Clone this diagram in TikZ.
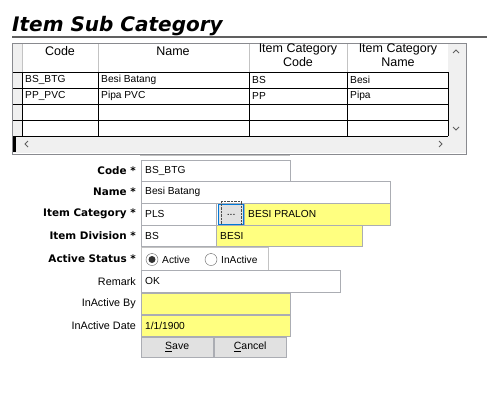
\documentclass[tikz,border=0pt]{standalone}
\usepackage{fontspec}
\setmainfont{Liberation Sans}
\newfontfamily\titlefont{DejaVu Sans}
\usetikzlibrary{positioning}
\definecolor{fieldyellow}{RGB}{255,255,128}
\definecolor{boxgray}{RGB}{171,173,179}
\definecolor{panelgray}{RGB}{240,240,240}
\definecolor{focusblue}{RGB}{0,120,215}
\definecolor{btngray}{RGB}{225,225,225}
\definecolor{arrowgray}{RGB}{96,96,96}

\begin{document}
\begin{tikzpicture}[x=1pt, y=-1pt, font=\fontsize{10.5}{12}\selectfont,
    txtbox/.style={draw=boxgray, fill=white, anchor=north west, inner sep=0pt},
    ybox/.style={txtbox, fill=fieldyellow},
    btn/.style={txtbox, fill=btngray},
    lbl/.style={anchor=east, inner sep=0pt, font=\titlefont\bfseries\fontsize{10.4}{12}\selectfont},
    plainlbl/.style={anchor=east, inner sep=0pt, font=\fontsize{10.8}{12}\selectfont},
    val/.style={anchor=west, inner sep=0pt, font=\fontsize{10.2}{12}\selectfont},
    hdr/.style={align=center, inner sep=0pt, font=\fontsize{12.5}{14}\selectfont}]
    \useasboundingbox (0,0) rectangle (500,400);

    % Title
    \node[anchor=base west, inner sep=0pt, font=\titlefont\bfseries\itshape\fontsize{20}{22}\selectfont] (title) at (12,31) {Item Sub Category};
    \draw[line width=2pt, arrowgray] (12,36.5) -- (487,36.5);

    % Grid frame
    \fill[white] (12,43) rectangle (448,136);
    \fill[panelgray] (12,43) rectangle (22,136);
    \fill[panelgray] (448,43) rectangle (466,153);
    \fill[panelgray] (12,136) rectangle (448,153);
    \fill[black] (12,136) rectangle (16,152);
    \foreach \x in {22,98,249,347} \draw[panelgray!60!gray] (\x,43) -- (\x,72);
    \foreach \y in {72,88,104,120,136} \draw (12,\y) -- (448,\y);
    \foreach \x in {22,98,249,347,448} \draw (\x,72) -- (\x,136);
    \draw[boxgray!80!black] (12,43) rectangle (466,154);

    % Scroll arrows
    \draw[arrowgray, thick] (453,53) -- (456,50) -- (459,53);
    \draw[arrowgray, thick] (453,127) -- (456,130) -- (459,127);
    \draw[arrowgray, thick] (28,141) -- (25,144) -- (28,147);
    \draw[arrowgray, thick] (439,141) -- (442,144) -- (439,147);

    % Headers
    \node[hdr] (hcode) at (60,51) {Code};
    \node[hdr] (hname) at (173,51) {Name};
    \node[hdr, anchor=north] (hcatcode) at (298,44) {Item Category\\Code};
    \node[hdr, anchor=north] (hcatname) at (398,44) {Item Category\\Name};

    % Rows
    \node[val] (r1code) at (25,80) {BS\_BTG};
    \node[val] (r1name) at (101,80) {Besi Batang};
    \node[val] (r1cat) at (252,80) {BS};
    \node[val] (r1catname) at (350,80) {Besi};
    \node[val] (r2code) at (25,96) {PP\_PVC};
    \node[val] (r2name) at (101,96) {Pipa PVC};
    \node[val] (r2cat) at (252,96) {PP};
    \node[val] (r2catname) at (350,96) {Pipa};

    \draw[panelgray!60!gray] (140,155) -- (290,155);

    % Form fields
    \node[txtbox, minimum width=149, minimum height=21] (codebox) at (141,160) {};
    \node[txtbox, minimum width=249, minimum height=22] (namebox) at (141,181) {};
    \node[txtbox, minimum width=75, minimum height=22] (catbox) at (141,203) {};
    \node[ybox, minimum width=146, minimum height=22] (catname) at (244,203) {};
    \node[btn, draw=focusblue, line width=1.4pt, minimum width=25, minimum height=20] (catbtn) at (218,204) {};
    \draw[densely dotted, black!70] ([shift={(3,-3)}]catbtn.north west) rectangle ([shift={(-3,3)}]catbtn.south east);
    \node[txtbox, minimum width=75, minimum height=21] (divbox) at (141,225) {};
    \node[ybox, minimum width=146, minimum height=21] (divname) at (216,225) {};
    \node[txtbox, draw=panelgray!60!gray, minimum width=127, minimum height=23] (statusbox) at (141,247) {};
    \node[txtbox, minimum width=199, minimum height=22] (remarkbox) at (141,270) {};
    \node[ybox, minimum width=149, minimum height=21] (inbybox) at (141,293) {};
    \node[ybox, minimum width=149, minimum height=21] (indatebox) at (141,315) {};
    \node[btn, minimum width=72, minimum height=20] (savebtn) at (141,337) {\underline{S}ave};
    \node[btn, minimum width=72, minimum height=20] (cancelbtn) at (214,337) {\underline{C}ancel};

    % Values
    \node[val, right=4pt of codebox.west] (codeval) {BS\_BTG};
    \node[val, right=4pt of namebox.west] (nameval) {Besi Batang};
    \node[val, right=4pt of catbox.west] (catval) {PLS};
    \node[inner sep=0pt] (dots) at (catbtn.center) {...};
    \node[val, right=4pt of catname.west] (catnameval) {BESI PRALON};
    \node[val, right=4pt of divbox.west] (divval) {BS};
    \node[val, right=4pt of divname.west] (divnameval) {BESI};
    \node[val, right=4pt of remarkbox.west] (remarkval) {OK};
    \node[val, right=4pt of indatebox.west] (indateval) {1/1/1900};

    % Radio buttons
    \draw[arrowgray, fill=white] (152,259.5) circle (6);
    \fill[black!80] (152,259.5) circle (3.5);
    \node[val] (active) at (162,259.5) {Active};
    \draw[arrowgray, fill=white] (211,259.5) circle (6);
    \node[val] (inactive) at (221,259.5) {InActive};

    % Labels
    \node[lbl, left=5pt of codebox.west] (codelbl) {Code *};
    \node[lbl, left=5pt of namebox.west] (namelbl) {Name *};
    \node[lbl, left=5pt of catbox.west] (catlbl) {Item Category *};
    \node[lbl, left=5pt of divbox.west] (divlbl) {Item Division *};
    \node[lbl, left=5pt of statusbox.west] (statuslbl) {Active Status *};
    \node[plainlbl, left=5pt of remarkbox.west] (remarklbl) {Remark};
    \node[plainlbl, left=5pt of inbybox.west] (inbylbl) {InActive By};
    \node[plainlbl, left=5pt of indatebox.west] (indatelbl) {InActive Date};
\end{tikzpicture}
\end{document}
